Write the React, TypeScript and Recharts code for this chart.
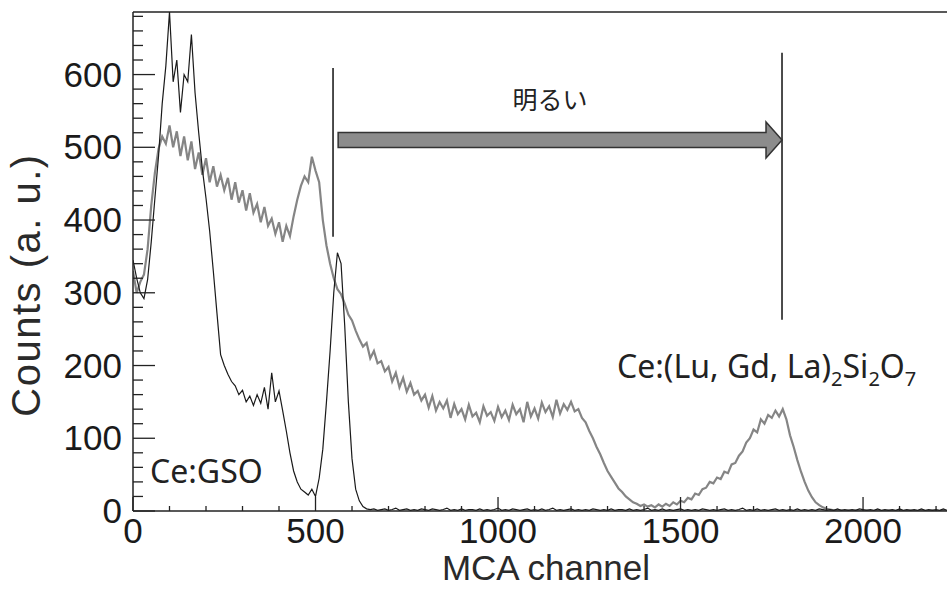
import React from 'react';
import { LineChart, Line, XAxis, YAxis, ReferenceLine } from 'recharts';

// Ce:GSO spectrum (black), counts every 10 MCA channels starting at 0
const gsoCounts = [
  345, 320, 300, 292, 318, 370, 430, 488, 560, 612,
  686, 590, 620, 548, 600, 590, 655, 575, 520, 470,
  430, 385, 330, 272, 215, 200, 188, 178, 172, 160,
  166, 150, 158, 145, 160, 148, 170, 140, 190, 150,
  165, 138, 110, 80, 55, 40, 30, 26, 22, 30,
  20, 45, 85, 150, 220, 300, 355, 340, 255, 150,
  72, 30, 14, 6, 3, 2, 3, 1, 2, 3,
  1, 2, 4, 1, 2, 3, 1, 2, 1, 3,
  2, 1, 3, 2, 1, 2, 4, 1, 2, 1,
  3, 1, 2, 2, 1, 3, 1, 2, 1, 2,
  4, 1, 2, 1, 3, 2, 1, 2, 3, 1,
  2, 1, 3, 1, 2, 4, 1, 2, 1, 2,
  3, 1, 2, 1, 2, 1, 3, 2, 1, 2,
  1, 3, 1, 2, 2, 1, 3, 1, 2, 1,
  2, 4, 1, 2, 1, 3, 1, 2, 1, 2,
  3, 1, 2, 1, 2, 1, 3, 2, 1, 2,
  1, 2, 3, 1, 2, 1, 2, 4, 1, 2,
  1, 3, 1, 2, 1, 2, 3, 1, 2, 1,
  2, 1, 3, 1, 2, 1, 2, 1, 3, 2,
  1, 2, 1, 3, 1, 2, 1, 2, 1, 3,
  2, 1, 2, 1, 3, 1, 2, 1, 2, 1,
  3, 1, 2, 1, 2, 1, 3, 1, 2, 1,
  2, 1, 3, 1,
];

// Ce:(Lu, Gd, La)2Si2O7 spectrum (gray)
const lglsoCounts = [
  330, 300, 315, 325, 360, 420, 465, 498, 515, 505,
  530, 500, 522, 488, 515, 482, 508, 470, 493, 462,
  485, 452, 474, 446, 462, 441, 458, 428, 452, 424,
  441, 413, 437, 410, 422, 397, 418, 392, 402, 381,
  397, 370, 392, 378, 405, 428, 447, 460, 452, 487,
  468, 452, 400, 365, 340, 320, 305, 298, 285, 270,
  262, 248, 236, 226, 231, 210, 220, 203, 206, 192,
  198, 178, 190, 170, 183, 164, 176, 160, 165, 152,
  160, 142, 158, 138, 150, 141, 152, 128, 147, 133,
  140, 126, 146, 130, 135, 122, 144, 131, 136, 124,
  143, 129, 138, 125, 146, 133, 140, 122, 150, 130,
  141, 127, 149, 136, 144, 129, 153, 134, 147, 139,
  150, 137, 140, 128, 122, 110, 100, 88, 78, 66,
  55, 47, 39, 31, 26, 20, 16, 12, 10, 7,
  9, 6, 8, 5, 9, 6, 10, 7, 12, 9,
  14, 12, 18, 16, 24, 22, 30, 32, 40, 38,
  46, 44, 54, 52, 64, 66, 76, 82, 94, 100,
  112, 108, 126, 120, 132, 128, 138, 130, 140, 126,
  104, 88, 70, 54, 40, 28, 19, 12, 8, 5,
  3, 2, 1, 1, 1, 0, 1, 0, 1, 0,
  0, 1, 0, 0, 1, 0, 0, 1, 0, 0,
  1, 0, 0, 1, 0, 0, 1, 0, 0, 1,
  0, 0, 1, 0,
];

const channels = gsoCounts.map((_, i) => i * 10);

const xTicks = [
  0, 100, 200, 300, 400, 500, 600, 700, 800, 900, 1000, 1100,
  1200, 1300, 1400, 1500, 1600, 1700, 1800, 1900, 2000, 2100, 2200,
];
const yTicks = [
  0, 20, 40, 60, 80, 100, 120, 140, 160, 180, 200, 220, 240, 260, 280, 300,
  320, 340, 360, 380, 400, 420, 440, 460, 480, 500, 520, 540, 560, 580, 600,
  620, 640, 660, 680,
];

// brightness arrow and the two marker lines, in channel / count units
const arrowFrom = { ch: 562, counts: 510 };
const arrowTo = { ch: 1778, counts: 510 };
const gsoMarker = { ch: 548, from: 377, to: 609 };
const lglsoMarker = { ch: 1778, from: 263, to: 630 };

const data = channels.map((ch, i) => ({ ch, gso: gsoCounts[i], lglso: lglsoCounts[i] }));

const axisFont = 'Liberation Sans, Arial, Helvetica, sans-serif';
const labelFont = '"Noto Sans", "Open Sans", sans-serif';

const XTick = (props: any) => {
  const { x, y, payload } = props;
  const major = payload.value % 500 === 0;
  return (
    <g>
      <line x1={x} y1={y} x2={x} y2={y - (major ? 14 : 5)} stroke="#222" strokeWidth={1.3} />
      {major && (
        <text x={x} y={y + 32} textAnchor="middle" fontSize={35} fontFamily={axisFont} fill="#1a1a1a">
          {payload.value}
        </text>
      )}
    </g>
  );
};

const YTick = (props: any) => {
  const { x, y, payload } = props;
  const major = payload.value % 100 === 0;
  return (
    <g>
      <line x1={x} y1={y} x2={x + (major ? 22 : 10)} y2={y} stroke="#222" strokeWidth={1.3} />
      {major && (
        <text x={x - 11} y={y + 12} textAnchor="end" fontSize={35} fontFamily={axisFont} fill="#1a1a1a">
          {payload.value}
        </text>
      )}
    </g>
  );
};

const ArrowShape = (props: any) => {
  const { x1, y1, x2 } = props;
  const half = 7.5;
  const headHalf = 18;
  const headLen = 16;
  const pts = [
    [x1, y1 - half],
    [x2 - headLen, y1 - half],
    [x2 - headLen, y1 - headHalf],
    [x2, y1],
    [x2 - headLen, y1 + headHalf],
    [x2 - headLen, y1 + half],
    [x1, y1 + half],
  ]
    .map((p) => p.join(','))
    .join(' ');
  return <polygon points={pts} fill="#8c8c8c" stroke="#333" strokeWidth={1.5} />;
};

const App: React.FC = () => {
  return (
    <div style={{ position: 'absolute', left: 0, top: 0, width: 947, height: 590, background: '#fff' }}>
      <LineChart width={947} height={590} data={data} margin={{ top: 12, right: 0, left: 0, bottom: 0 }}>
        <XAxis
          dataKey="ch"
          type="number"
          domain={[0, 2230]}
          ticks={xTicks}
          interval={0}
          height={79}
          tickSize={0}
          tickMargin={0}
          tickLine={false}
          tick={<XTick />}
          axisLine={{ stroke: '#222', strokeWidth: 1.5 }}
          allowDataOverflow
        />
        <YAxis
          type="number"
          domain={[0, 686]}
          ticks={yTicks}
          interval={0}
          width={133}
          tickSize={0}
          tickMargin={0}
          tickLine={false}
          tick={<YTick />}
          axisLine={{ stroke: '#222', strokeWidth: 1.5 }}
          allowDataOverflow
        />
        <ReferenceLine y={686} stroke="#222" strokeWidth={1.5} />
        <Line
          type="linear"
          dataKey="lglso"
          stroke="#858585"
          strokeWidth={2.2}
          dot={false}
          isAnimationActive={false}
        />
        <Line
          type="linear"
          dataKey="gso"
          stroke="#1a1a1a"
          strokeWidth={1.2}
          dot={false}
          isAnimationActive={false}
        />
        <ReferenceLine
          segment={[{ x: gsoMarker.ch, y: gsoMarker.from }, { x: gsoMarker.ch, y: gsoMarker.to }]}
          stroke="#111"
          strokeWidth={1.5}
        />
        <ReferenceLine
          segment={[{ x: lglsoMarker.ch, y: lglsoMarker.from }, { x: lglsoMarker.ch, y: lglsoMarker.to }]}
          stroke="#111"
          strokeWidth={1.5}
        />
        <ReferenceLine
          segment={[{ x: arrowFrom.ch, y: arrowFrom.counts }, { x: arrowTo.ch, y: arrowTo.counts }]}
          shape={(p: any) => <ArrowShape {...p} />}
        />
      </LineChart>
      <svg
        width={947}
        height={590}
        style={{ position: 'absolute', left: 0, top: 0, pointerEvents: 'none' }}
      >
        <text
          transform="translate(40, 285) rotate(-90)"
          textAnchor="middle"
          fontSize={40}
          letterSpacing={1.5}
          fontFamily={axisFont}
          fill="#2a2a2a"
        >
          Counts (a. u.)
        </text>
        <text x={546} y={580} textAnchor="middle" fontSize={35} fontFamily={axisFont} fill="#2a2a2a">
          MCA channel
        </text>
        <text x={550} y={109} textAnchor="middle" fontSize={25} fontFamily='"Noto Sans CJK JP", sans-serif' fill="#222">
          明るい
        </text>
        <text x={150} y={483} fontSize={32} fontFamily={labelFont} fill="#222">
          Ce:GSO
        </text>
        <text x={617} y={378} fontSize={32} fontFamily={labelFont} fill="#222">
          Ce:(Lu, Gd, La)
          <tspan fontSize={20} dy={8}>2</tspan>
          <tspan dy={-8}>Si</tspan>
          <tspan fontSize={20} dy={8}>2</tspan>
          <tspan dy={-8}>O</tspan>
          <tspan fontSize={20} dy={8}>7</tspan>
        </text>
      </svg>
    </div>
  );
};

export default App;
